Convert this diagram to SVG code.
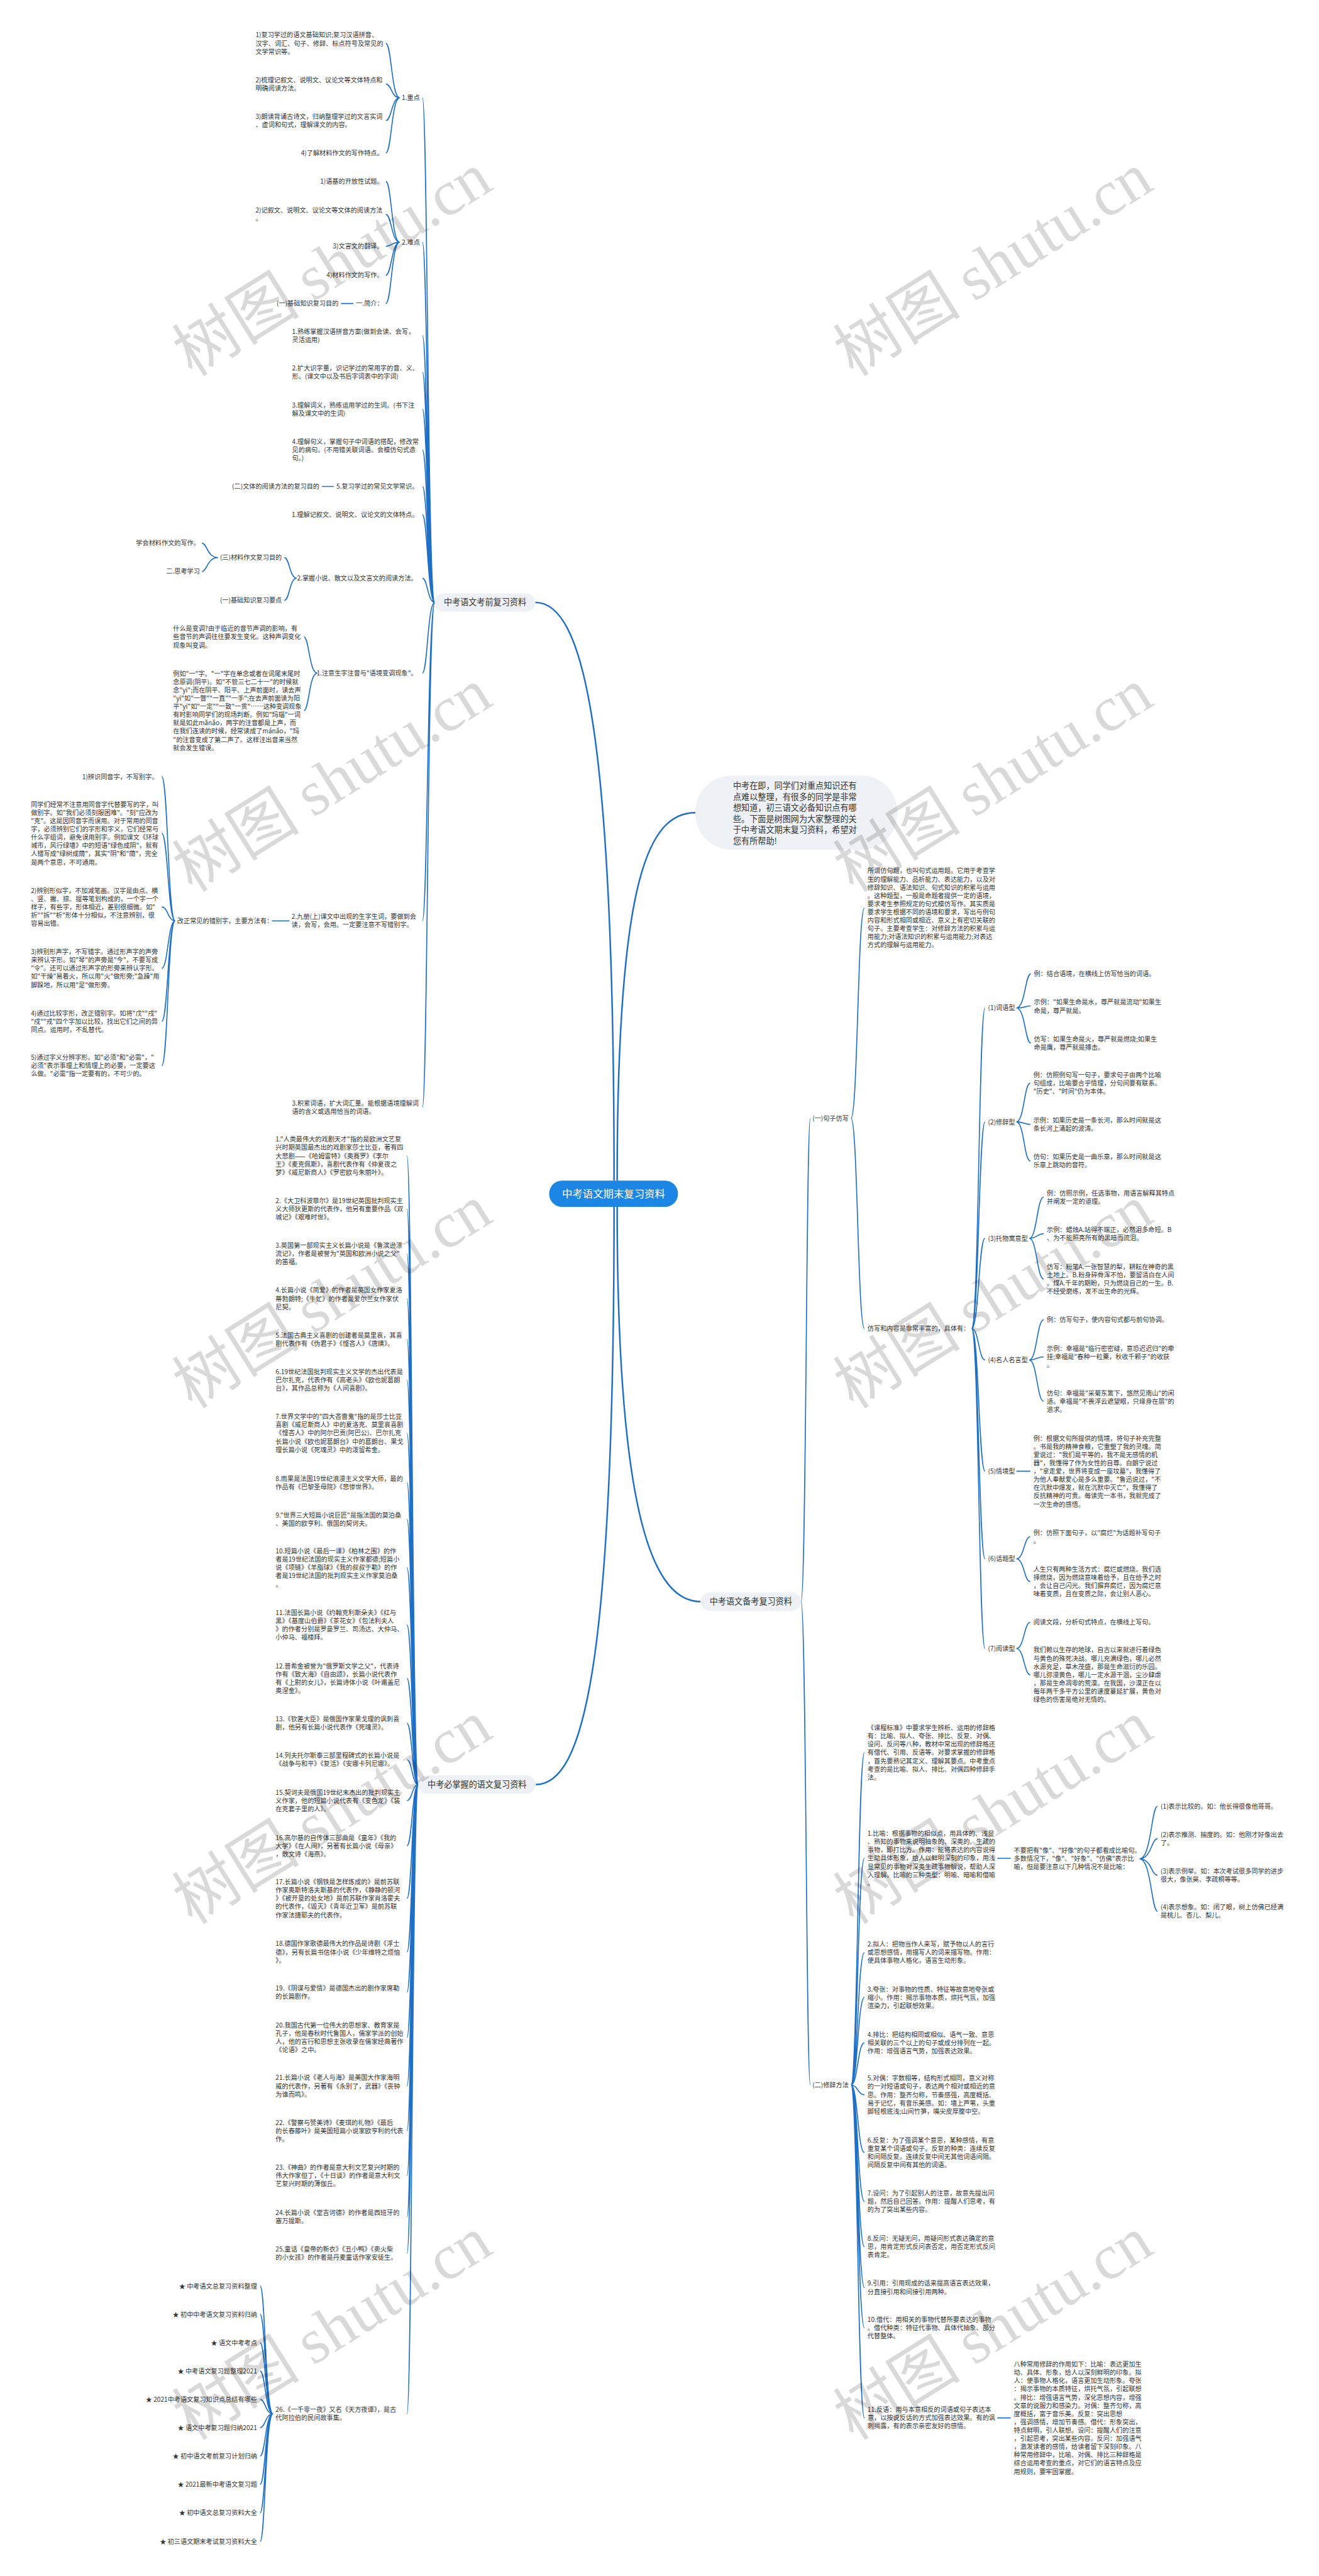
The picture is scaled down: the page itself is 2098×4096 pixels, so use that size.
<svg xmlns="http://www.w3.org/2000/svg" width="2098" height="4096" viewBox="0 0 2098 4096">
<style>
.t{font-family:"Noto Sans CJK SC","Liberation Sans",sans-serif;font-size:12.4px;fill:#333}
.e{text-anchor:end}
.n{font-size:16px;text-anchor:middle}
.r{font-size:20px;fill:#fff;text-anchor:middle}
.b{font-size:16px}
.c{fill:none;stroke:#1f6fc5;stroke-width:2}
.cr{stroke-width:3}
.nb{fill:#eef1f5}
.wm{font-family:"Noto Sans CJK SC",sans-serif;font-size:124px;fill:#000;fill-opacity:.15;text-anchor:middle}
</style>
<rect width="2098" height="4096" fill="#fff"/>
<g transform="scale(0.8194)">
<g id="connectors">
<path class="c cr" d="M1192 2291C1192 1400 1130 1169 1039 1169M1198 2291C1198 1700 1260 1577 1350 1577M1192 2342C1192 3250 1130 3463 1040 3463M1198 2342C1198 2950 1270 3108 1360 3108"/>
<path class="c" d="M844 1169C830 1169 830 190 820 190M844 1169C830 1169 830 470 820 470M844 1169C830 1169 830 651 820 651M844 1169C830 1169 830 722 820 722M844 1169C830 1169 830 794 820 794M844 1169C830 1169 830 873 820 873M844 1169C830 1169 830 944 820 944M844 1169C830 1169 830 999 820 999M844 1169C830 1169 830 1122 820 1122M844 1169C830 1169 830 1306 820 1306M844 1169C830 1169 830 1787 820 1787M844 1169C830 1169 830 2149 820 2149"/>
<path class="c" d="M776 190C760 190 760 84 749 84M776 190C760 190 760 163 749 163M776 190C760 190 760 234 749 234M776 190C760 190 760 297 749 297"/>
<path class="c" d="M776 470C760 470 760 352 749 352M776 470C760 470 760 416 749 416M776 470C760 470 760 478 749 478M776 470C760 470 760 534 749 534M776 470C760 470 760 589 749 589M686 589H662M648 944H625M562 1787H528"/>
<path class="c" d="M576 1122C562 1122 562 1082 552 1082M576 1122C562 1122 562 1165 552 1165M423 1082C402 1082 402 1054 392 1054M423 1082C402 1082 402 1109 392 1109M616 1306C600 1306 600 1236 590 1236M616 1306C600 1306 600 1379 590 1379"/>
<path class="c" d="M340 1787C326 1787 326 1507 314 1507M340 1787C326 1787 326 1617 314 1617M340 1787C326 1787 326 1760 314 1760M340 1787C326 1787 326 1879 314 1879M340 1787C326 1787 326 1982 314 1982M340 1787C326 1787 326 2068 314 2068"/>
<path class="c" d="M812 3463C800 3463 800 2243 790 2243M812 3463C800 3463 800 2346 790 2346M812 3463C800 3463 800 2433 790 2433M812 3463C800 3463 800 2520 790 2520M812 3463C800 3463 800 2599 790 2599M812 3463C800 3463 800 2678 790 2678M812 3463C800 3463 800 2781 790 2781M812 3463C800 3463 800 2877 790 2877M812 3463C800 3463 800 2948 790 2948M812 3463C800 3463 800 3042 790 3042M812 3463C800 3463 800 3153 790 3153M812 3463C800 3463 800 3257 790 3257M812 3463C800 3463 800 3344 790 3344M812 3463C800 3463 800 3415 790 3415M812 3463C800 3463 800 3494 790 3494M812 3463C800 3463 800 3582 790 3582M812 3463C800 3463 800 3684 790 3684M812 3463C800 3463 800 3788 790 3788M812 3463C800 3463 800 3866 790 3866M812 3463C800 3463 800 3954 790 3954M812 3463C800 3463 800 4048 790 4048M812 3463C800 3463 800 4135 790 4135M812 3463C800 3463 800 4222 790 4222M812 3463C800 3463 800 4302 790 4302M812 3463C800 3463 800 4373 790 4373M812 3463C800 3463 800 4684 790 4684"/>
<path class="c" d="M530 4684C515 4684 515 4436 505 4436M530 4684C515 4684 515 4491 505 4491M530 4684C515 4684 515 4546 505 4546M530 4684C515 4684 515 4601 505 4601M530 4684C515 4684 515 4656 505 4656M530 4684C515 4684 515 4711 505 4711M530 4684C515 4684 515 4766 505 4766M530 4684C515 4684 515 4821 505 4821M530 4684C515 4684 515 4876 505 4876M530 4684C515 4684 515 4932 505 4932"/>
<path class="c" d="M1555 3108C1565 3108 1565 2170 1573 2170M1555 3108C1565 3108 1565 4046 1573 4046M1652 2170C1665 2170 1665 1762 1678 1762M1652 2170C1665 2170 1665 2578 1678 2578"/>
<path class="c" d="M1886 2578C1900 2578 1900 1956 1912 1956M1886 2578C1900 2578 1900 2177 1912 2177M1886 2578C1900 2578 1900 2403 1912 2403M1886 2578C1900 2578 1900 2639 1912 2639M1886 2578C1900 2578 1900 2855 1912 2855M1886 2578C1900 2578 1900 3025 1912 3025M1886 2578C1900 2578 1900 3199 1912 3199"/>
<path class="c" d="M1973 1956C1990 1956 1990 1890 2001 1890M1973 1956C1990 1956 1990 1952 2001 1952M1973 1956C1990 1956 1990 2024 2001 2024M1973 2177C1988 2177 1988 2102 2000 2102M1973 2177C1988 2177 1988 2182 2000 2182M1973 2177C1988 2177 1988 2253 2000 2253M1998 2403C2013 2403 2013 2323 2026 2323M1998 2403C2013 2403 2013 2394 2026 2394M1998 2403C2013 2403 2013 2482 2026 2482M1998 2639C2013 2639 2013 2561 2026 2561M1998 2639C2013 2639 2013 2633 2026 2633M1998 2639C2013 2639 2013 2719 2026 2719M1973 2855H2000M1973 3025C1988 3025 1988 2982 2000 2982M1973 3025C1988 3025 1988 3069 2000 3069M1973 3199C1988 3199 1988 3148 2000 3148M1973 3199C1988 3199 1988 3250 2000 3250"/>
<path class="c" d="M1652 4046C1665 4046 1665 3401 1678 3401M1652 4046C1665 4046 1665 3606 1678 3606M1652 4046C1665 4046 1665 3789 1678 3789M1652 4046C1665 4046 1665 3876 1678 3876M1652 4046C1665 4046 1665 3964 1678 3964M1652 4046C1665 4046 1665 4065 1678 4065M1652 4046C1665 4046 1665 4177 1678 4177M1652 4046C1665 4046 1665 4272 1678 4272M1652 4046C1665 4046 1665 4360 1678 4360M1652 4046C1665 4046 1665 4439 1678 4439M1652 4046C1665 4046 1665 4517 1678 4517M1652 4046C1665 4046 1665 4692 1678 4692M1936 3606H1962M1936 4692H1962"/>
<path class="c" d="M2212 3607C2235 3607 2235 3505 2247 3505M2212 3607C2235 3607 2235 3568 2247 3568M2212 3607C2235 3607 2235 3639 2247 3639M2212 3607C2235 3607 2235 3709 2247 3709"/>
</g>
<g id="root"><rect x="1066" y="2291" width="250" height="51" rx="25" fill="#1c86e4"/><text class="t r" x="1191" y="2323.5">中考语文期末复习资料</text></g>
<g id="intro"><rect x="1350" y="1505" width="392" height="144" rx="70" class="nb"/>
<text class="t b" x="1423" y="1530.5"><tspan>中考在即，同学们对重点知识还有</tspan><tspan x="1423" dy="21.4">点难以整理，有很多的同学是非常</tspan><tspan x="1423" dy="21.4">想知道，初三语文必备知识点有哪</tspan><tspan x="1423" dy="21.4">些。下面是树图网为大家整理的关</tspan><tspan x="1423" dy="21.4">于中考语文期末复习资料，希望对</tspan><tspan x="1423" dy="21.4">您有所帮助!</tspan></text></g>
<g id="branch-kaoqian"><rect x="844" y="1151" width="195" height="36" rx="18" class="nb"/><text class="t n" x="941.5" y="1174.5">中考语文考前复习资料</text></g>
<g id="branch-bizhangwo"><rect x="812" y="3445" width="228" height="36" rx="18" class="nb"/><text class="t n" x="926" y="3468.5">中考必掌握的语文复习资料</text></g>
<g id="branch-beikao"><rect x="1360" y="3090" width="195" height="36" rx="18" class="nb"/><text class="t n" x="1457.5" y="3113.5">中考语文备考复习资料</text></g>
<g id="kaoqian-children">
<text class="t" x="496" y="72.5"><tspan>1)复习学过的语文基础知识;复习汉语拼音、</tspan><tspan x="496" dy="16">汉字、词汇、句子、修辞、标点符号及常见的</tspan><tspan x="496" dy="16">文学常识等。</tspan></text>
<text class="t" x="496" y="159.5"><tspan>2)梳理记叙文、说明文、议论文等文体特点和</tspan><tspan x="496" dy="16">明确阅读方法。</tspan></text>
<text class="t" x="496" y="230.5"><tspan>3)朗读背诵古诗文，归纳整理学过的文言实词</tspan><tspan x="496" dy="16">、虚词和句式，理解课文的内容。</tspan></text>
<text class="t e" x="744" y="301.5">4)了解材料作文的写作特点。</text>
<text class="t" x="780" y="194.5">1.重点</text>
<text class="t e" x="744" y="356.5">1)语基的开放性试题。</text>
<text class="t" x="496" y="412.5"><tspan>2)记叙文、说明文、议论文等文体的阅读方法</tspan><tspan x="496" dy="16">。</tspan></text>
<text class="t e" x="744" y="482.5">3)文言文的翻译。</text>
<text class="t e" x="744" y="538.5">4)材料作文的写作。</text>
<text class="t e" x="744" y="593.5">一.简介：</text>
<text class="t e" x="657" y="593.5">(一)基础知识复习目的</text>
<text class="t" x="780" y="474.5">2.难点</text>
<text class="t" x="567" y="647.5"><tspan>1.熟练掌握汉语拼音方案(做到会读、会写，</tspan><tspan x="567" dy="16">灵活运用)</tspan></text>
<text class="t" x="567" y="718.5"><tspan>2.扩大识字量，识记学过的常用字的音、义、</tspan><tspan x="567" dy="16">形。(课文中以及书后字词表中的字词)</tspan></text>
<text class="t" x="567" y="790.5"><tspan>3.理解词义，熟练运用学过的生词。(书下注</tspan><tspan x="567" dy="16">解及课文中的生词)</tspan></text>
<text class="t" x="567" y="861.5"><tspan>4.理解句义，掌握句子中词语的搭配，修改常</tspan><tspan x="567" dy="16">见的病句。(不用错关联词语。会模仿句式造</tspan><tspan x="567" dy="16">句。)</tspan></text>
<text class="t e" x="812" y="948.5">5.复习学过的常见文学常识。</text>
<text class="t e" x="620" y="948.5">(二)文体的阅读方法的复习目的</text>
<text class="t e" x="812" y="1003.5">1.理解记叙文、说明文、议论文的文体特点。</text>
<text class="t e" x="388" y="1058.5">学会材料作文的写作。</text>
<text class="t e" x="388" y="1113.5">二.思考学习</text>
<text class="t e" x="547" y="1086.5">(三)材料作文复习目的</text>
<text class="t e" x="547" y="1169.5">(一)基础知识复习要点</text>
<text class="t e" x="810" y="1126.5">2.掌握小说、散文以及文言文的阅读方法。</text>
<text class="t" x="336" y="1224.5"><tspan>什么是变调?由于临近的音节声调的影响，有</tspan><tspan x="336" dy="16">些音节的声调往往要发生变化。这种声调变化</tspan><tspan x="336" dy="16">现象叫变调。</tspan></text>
<text class="t" x="336" y="1311.5"><tspan>例如"一"字。"一"字在单念或者在词尾末尾时</tspan><tspan x="336" dy="16">念原调(阴平)。如"不管三七二十一"的时候就</tspan><tspan x="336" dy="16">念"yi";而在阴平、阳平、上声前面时，读去声</tspan><tspan x="336" dy="16">"yi"如"一瞥""一直""一手";在去声前面读为阳</tspan><tspan x="336" dy="16">平"yi"如"一定""一致"一贯"……这种变调现象</tspan><tspan x="336" dy="16">有时影响同学们的现场判断。例如"玛瑙"一词</tspan><tspan x="336" dy="16">就是如此mǎnǎo，两字的注音都是上声，而</tspan><tspan x="336" dy="16">在我们连读的时候，经常读成了mánǎo，"玛</tspan><tspan x="336" dy="16">"的注音变成了第二声了。这样注出音来当然</tspan><tspan x="336" dy="16">就会发生错误。</tspan></text>
<text class="t e" x="810" y="1310.5">1.注意生字注音与"语境变调现象"。</text>
<text class="t" x="566" y="1783.5"><tspan>2.九册(上)课文中出现的生字生词，要做到会</tspan><tspan x="566" dy="16">读，会写，会用。一定要注意不写错别字。</tspan></text>
<text class="t" x="344" y="1791.5">改正常见的错别字，主要方法有：</text>
<text class="t e" x="307" y="1511.5">1)辨识同音字，不写别字。</text>
<text class="t" x="60" y="1565.5"><tspan>同学们经常不注意用同音字代替要写的字，叫</tspan><tspan x="60" dy="16">做别字。如"我们必须刻服困难"。"刻"应改为</tspan><tspan x="60" dy="16">"克"。这是因同音字而误用。对于常用的同音</tspan><tspan x="60" dy="16">字，必须辨别它们的字形和字义，它们经常与</tspan><tspan x="60" dy="16">什么字组词，避免误用别字。例如课文《环球</tspan><tspan x="60" dy="16">城市，风行绿墙》中的短语"绿色成阴"，就有</tspan><tspan x="60" dy="16">人错写成"绿树成荫"，其实"阴"和"荫"，完全</tspan><tspan x="60" dy="16">是两个意思，不可通用。</tspan></text>
<text class="t" x="60" y="1732.5"><tspan>2)辨别形似字，不加减笔画。汉字是由点、横</tspan><tspan x="60" dy="16">、竖、撇、捺、提等笔划构成的，一个字一个</tspan><tspan x="60" dy="16">样子，有些字，形体相近，差别很细微。如"</tspan><tspan x="60" dy="16">折""拆""析"形体十分相似，不注意辨别，很</tspan><tspan x="60" dy="16">容易出错。</tspan></text>
<text class="t" x="60" y="1851.5"><tspan>3)辨别形声字，不写错字。通过形声字的声旁</tspan><tspan x="60" dy="16">来辨认字形。如"琴"的声旁是"今"，不要写成</tspan><tspan x="60" dy="16">"令"。还可以通过形声字的形旁来辨认字形。</tspan><tspan x="60" dy="16">如"干燥"易着火，所以用"火"做形旁;"急躁"用</tspan><tspan x="60" dy="16">脚跺地，所以用"足"做形旁。</tspan></text>
<text class="t" x="60" y="1970.5"><tspan>4)通过比较字形，改正错别字。如将"戊""戌"</tspan><tspan x="60" dy="16">"戍""戎"四个字加以比较，找出它们之间的异</tspan><tspan x="60" dy="16">同点。运用时，不乱替代。</tspan></text>
<text class="t" x="60" y="2056.5"><tspan>5)通过字义分辨字形。如"必须"和"必需"，"</tspan><tspan x="60" dy="16">必须"表示事理上和情理上的必要，一定要这</tspan><tspan x="60" dy="16">么做。"必需"指一定要有的，不可少的。</tspan></text>
<text class="t" x="567" y="2145.5"><tspan>3.积累词语，扩大词汇量。能根据语境理解词</tspan><tspan x="567" dy="16">语的含义或选用恰当的词语。</tspan></text>
</g>
<g id="bizhangwo-children">
<text class="t" x="535" y="2215.5"><tspan>1."人类最伟大的戏剧天才"指的是欧洲文艺复</tspan><tspan x="535" dy="16">兴时期英国最杰出的戏剧家莎士比亚，著有四</tspan><tspan x="535" dy="16">大悲剧——《哈姆雷特》《奥赛罗》《李尔</tspan><tspan x="535" dy="16">王》《麦克佩斯》，喜剧代表作有《仲夏夜之</tspan><tspan x="535" dy="16">梦》《威尼斯商人》《罗密欧与朱丽叶》。</tspan></text>
<text class="t" x="535" y="2334.5"><tspan>2.《大卫科波菲尔》是19世纪英国批判现实主</tspan><tspan x="535" dy="16">义大师狄更斯的代表作，他另有重要作品《双</tspan><tspan x="535" dy="16">城记》《艰难时世》。</tspan></text>
<text class="t" x="535" y="2421.5"><tspan>3.英国第一部现实主义长篇小说是《鲁滨逊漂</tspan><tspan x="535" dy="16">流记》，作者是被誉为"英国和欧洲小说之父"</tspan><tspan x="535" dy="16">的笛福。</tspan></text>
<text class="t" x="535" y="2508.5"><tspan>4.长篇小说《简爱》的作者是英国女作家夏洛</tspan><tspan x="535" dy="16">蒂勃朗特;《牛虻》的作者是爱尔兰女作家伏</tspan><tspan x="535" dy="16">尼契。</tspan></text>
<text class="t" x="535" y="2595.5"><tspan>5.法国古典主义喜剧的创建者是莫里哀，其喜</tspan><tspan x="535" dy="16">剧代表作有《伪君子》《悭吝人》《唐璜》。</tspan></text>
<text class="t" x="535" y="2666.5"><tspan>6.19世纪法国批判现实主义文学的杰出代表是</tspan><tspan x="535" dy="16">巴尔扎克，代表作有《高老头》《欧也妮葛朗</tspan><tspan x="535" dy="16">台》，其作品总称为《人间喜剧》。</tspan></text>
<text class="t" x="535" y="2753.5"><tspan>7.世界文学中的"四大吝啬鬼"指的是莎士比亚</tspan><tspan x="535" dy="16">喜剧《威尼斯商人》中的夏洛克、莫里哀喜剧</tspan><tspan x="535" dy="16">《悭吝人》中的阿尔巴贡(阿巴公)、巴尔扎克</tspan><tspan x="535" dy="16">长篇小说《欧也妮葛朗台》中的葛朗台、果戈</tspan><tspan x="535" dy="16">理长篇小说《死魂灵》中的泼留希金。</tspan></text>
<text class="t" x="535" y="2873.5"><tspan>8.雨果是法国19世纪浪漫主义文学大师，最的</tspan><tspan x="535" dy="16">作品有《巴黎圣母院》《悲惨世界》。</tspan></text>
<text class="t" x="535" y="2944.5"><tspan>9."世界三大短篇小说巨匠"是指法国的莫泊桑</tspan><tspan x="535" dy="16">、美国的欧亨利、俄国的契诃夫。</tspan></text>
<text class="t" x="535" y="3014.5"><tspan>10.短篇小说《最后一课》《柏林之围》的作</tspan><tspan x="535" dy="16">者是19世纪法国的现实主义作家都德;短篇小</tspan><tspan x="535" dy="16">说《项链》《羊脂球》《我的叔叔于勒》的作</tspan><tspan x="535" dy="16">者是19世纪法国的批判现实主义作家莫泊桑</tspan><tspan x="535" dy="16">。</tspan></text>
<text class="t" x="535" y="3133.5"><tspan>11.法国长篇小说《约翰克利斯朵夫》《红与</tspan><tspan x="535" dy="16">黑》《基度山伯爵》《茶花女》《包法利夫人</tspan><tspan x="535" dy="16">》的作者分别是罗曼罗兰、司汤达、大仲马、</tspan><tspan x="535" dy="16">小仲马、福楼拜。</tspan></text>
<text class="t" x="535" y="3237.5"><tspan>12.普希金被誉为"俄罗斯文学之父"，代表诗</tspan><tspan x="535" dy="16">作有《致大海》《自由颂》，长篇小说代表作</tspan><tspan x="535" dy="16">有《上尉的女儿》，长篇诗体小说《叶甫盖尼</tspan><tspan x="535" dy="16">奥涅金》。</tspan></text>
<text class="t" x="535" y="3340.5"><tspan>13.《钦差大臣》是俄国作家果戈理的讽刺喜</tspan><tspan x="535" dy="16">剧，他另有长篇小说代表作《死魂灵》。</tspan></text>
<text class="t" x="535" y="3411.5"><tspan>14.列夫托尔斯泰三部里程碑式的长篇小说是</tspan><tspan x="535" dy="16">《战争与和平》《复活》《安娜卡列尼娜》。</tspan></text>
<text class="t" x="535" y="3482.5"><tspan>15.契诃夫是俄国19世纪末杰出的批判现实主</tspan><tspan x="535" dy="16">义作家，他的短篇小说代表有《变色龙》《装</tspan><tspan x="535" dy="16">在克套子里的人》。</tspan></text>
<text class="t" x="535" y="3570.5"><tspan>16.高尔基的自传体三部曲是《童年》《我的</tspan><tspan x="535" dy="16">大学》《在人间》，另著有长篇小说《母亲》</tspan><tspan x="535" dy="16">，散文诗《海燕》。</tspan></text>
<text class="t" x="535" y="3656.5"><tspan>17.长篇小说《钢铁是怎样炼成的》是前苏联</tspan><tspan x="535" dy="16">作家奥斯特洛夫斯基的代表作，《静静的顿河</tspan><tspan x="535" dy="16">》《被开垦的处女地》是前苏联作家肖洛霍夫</tspan><tspan x="535" dy="16">的代表作，《毁灭》《青年近卫军》是前苏联</tspan><tspan x="535" dy="16">作家法捷耶夫的代表作。</tspan></text>
<text class="t" x="535" y="3776.5"><tspan>18.德国作家歌德最伟大的作品是诗剧《浮士</tspan><tspan x="535" dy="16">德》，另有长篇书信体小说《少年维特之烦恼</tspan><tspan x="535" dy="16">》。</tspan></text>
<text class="t" x="535" y="3862.5"><tspan>19.《阴谋与爱情》是德国杰出的剧作家席勒</tspan><tspan x="535" dy="16">的长篇剧作。</tspan></text>
<text class="t" x="535" y="3934.5"><tspan>20.我国古代第一位伟大的思想家、教育家是</tspan><tspan x="535" dy="16">孔子，他是春秋时代鲁国人，儒家学派的创始</tspan><tspan x="535" dy="16">人，他的言行和思想主张收录在儒家经典著作</tspan><tspan x="535" dy="16">《论语》之中。</tspan></text>
<text class="t" x="535" y="4036.5"><tspan>21.长篇小说《老人与海》是美国大作家海明</tspan><tspan x="535" dy="16">威的代表作，另著有《永别了，武器》《丧钟</tspan><tspan x="535" dy="16">为谁而鸣》。</tspan></text>
<text class="t" x="535" y="4123.5"><tspan>22.《警察与赞美诗》《麦琪的礼物》《最后</tspan><tspan x="535" dy="16">的长春藤叶》是美国短篇小说家欧亨利的代表</tspan><tspan x="535" dy="16">作。</tspan></text>
<text class="t" x="535" y="4210.5"><tspan>23.《神曲》的作者是意大利文艺复兴时期的</tspan><tspan x="535" dy="16">伟大作家但丁，《十日谈》的作者是意大利文</tspan><tspan x="535" dy="16">艺复兴时期的薄伽丘。</tspan></text>
<text class="t" x="535" y="4298.5"><tspan>24.长篇小说《堂吉诃德》的作者是西班牙的</tspan><tspan x="535" dy="16">塞万提斯。</tspan></text>
<text class="t" x="535" y="4369.5"><tspan>25.童话《皇帝的新衣》《丑小鸭》《卖火柴</tspan><tspan x="535" dy="16">的小女孩》的作者是丹麦童话作家安徒生。</tspan></text>
<text class="t" x="535" y="4680.5"><tspan>26.《一千零一夜》又名《天方夜谭》，是古</tspan><tspan x="535" dy="16">代阿拉伯的民间故事集。</tspan></text>
<text class="t e" x="499" y="4440.5">★ 中考语文总复习资料整理</text>
<text class="t e" x="499" y="4495.5">★ 初中中考语文复习资料归纳</text>
<text class="t e" x="499" y="4550.5">★ 语文中考考点</text>
<text class="t e" x="499" y="4605.5">★ 中考语文复习题整理2021</text>
<text class="t e" x="499" y="4660.5">★ 2021中考语文复习知识点总结有哪些</text>
<text class="t e" x="499" y="4715.5">★ 语文中考复习题归纳2021</text>
<text class="t e" x="499" y="4770.5">★ 初中语文考前复习计划归纳</text>
<text class="t e" x="499" y="4825.5">★ 2021最新中考语文复习题</text>
<text class="t e" x="499" y="4880.5">★ 初中语文总复习资料大全</text>
<text class="t e" x="499" y="4936.5">★ 初三语文期末考试复习资料大全</text>
</g>
<g id="beikao-children">
<text class="t" x="1577" y="2174.5">(一)句子仿写</text>
<text class="t" x="1684" y="1694.5"><tspan>所谓仿句题，也叫句式运用题。它用于考查学</tspan><tspan x="1684" dy="16">生的理解能力、品析能力、表达能力，以及对</tspan><tspan x="1684" dy="16">修辞知识、语法知识、句式知识的积累与运用</tspan><tspan x="1684" dy="16">。这种题型，一般是命题者提供一定的语境，</tspan><tspan x="1684" dy="16">要求考生参照规定的句式模仿写作。其实质是</tspan><tspan x="1684" dy="16">要求学生根据不同的语境和要求，写出与例句</tspan><tspan x="1684" dy="16">内容和形式相同或相近、意义上有密切关联的</tspan><tspan x="1684" dy="16">句子。主要考查学生：对修辞方法的积累与运</tspan><tspan x="1684" dy="16">用能力;对语法知识的积累与运用能力;对表达</tspan><tspan x="1684" dy="16">方式的理解与运用能力。</tspan></text>
<text class="t" x="1684" y="2582.5">仿写和内容是非常丰富的，具体有：</text>
<text class="t" x="1918" y="1960.5">(1)词语型</text>
<text class="t" x="2007" y="1894.5">例：结合语境，在横线上仿写恰当的词语。</text>
<text class="t" x="2007" y="1949.5"><tspan>示例："如果生命是水，尊严就是流动"如果生</tspan><tspan x="2007" dy="16">命是，尊严就是。</tspan></text>
<text class="t" x="2007" y="2020.5"><tspan>仿写：如果生命是火，尊严就是燃烧;如果生</tspan><tspan x="2007" dy="16">命是鹰，尊严就是搏击。</tspan></text>
<text class="t" x="1918" y="2181.5">(2)修辞型</text>
<text class="t" x="2006" y="2090.5"><tspan>例：仿照例句写一句子，要求句子由两个比喻</tspan><tspan x="2006" dy="16">句组成，比喻要合乎情理，分句间要有联系。</tspan><tspan x="2006" dy="16">"历史"、"时间"仍为本体。</tspan></text>
<text class="t" x="2006" y="2178.5"><tspan>示例：如果历史是一条长河，那么时间就是这</tspan><tspan x="2006" dy="16">条长河上涌起的波涛。</tspan></text>
<text class="t" x="2006" y="2249.5"><tspan>仿句：如果历史是一曲乐章，那么时间就是这</tspan><tspan x="2006" dy="16">乐章上跳动的音符。</tspan></text>
<text class="t" x="1918" y="2407.5">(3)托物寓意型</text>
<text class="t" x="2032" y="2319.5"><tspan>例：仿照示例，任选事物，用语言解释其特点</tspan><tspan x="2032" dy="16">并阐发一定的道理。</tspan></text>
<text class="t" x="2032" y="2390.5"><tspan>示例：蜡烛A.站得不端正，必然泪多命短。B</tspan><tspan x="2032" dy="16">、为不能照亮所有的黑暗而流泪。</tspan></text>
<text class="t" x="2032" y="2462.5"><tspan>仿写：粉笔A.一张智慧的犁，耕耘在神奇的黑</tspan><tspan x="2032" dy="16">土地上。B.粉身碎骨浑不怕，要留清白在人间</tspan><tspan x="2032" dy="16">。煤A.千年的期盼，只为燃烧自己的一生。B.</tspan><tspan x="2032" dy="16">不经受磨练，发不出生命的光辉。</tspan></text>
<text class="t" x="1918" y="2643.5">(4)名人名言型</text>
<text class="t" x="2032" y="2565.5">例：仿写句子，使内容句式都与前句协调。</text>
<text class="t" x="2032" y="2621.5"><tspan>示例：幸福是"临行密密缝，意恐迟迟归"的牵</tspan><tspan x="2032" dy="16">挂;幸福是"春种一粒粟，秋收千颗子"的收获</tspan><tspan x="2032" dy="16">。</tspan></text>
<text class="t" x="2032" y="2707.5"><tspan>仿句：幸福是"采菊东篱下，悠然见南山"的闲</tspan><tspan x="2032" dy="16">适。幸福是"不畏浮云遮望眼，只缘身在层"的</tspan><tspan x="2032" dy="16">追求。</tspan></text>
<text class="t" x="1918" y="2859.5">(5)情境型</text>
<text class="t" x="2006" y="2795.5"><tspan>例：根据文句所提供的情境，将句子补充完整</tspan><tspan x="2006" dy="16">。书是我的精神食粮，它重塑了我的灵魂。简</tspan><tspan x="2006" dy="16">爱说过："我们是平等的，我不是无感情的机</tspan><tspan x="2006" dy="16">器"，我懂得了作为女性的自尊。白朗宁说过</tspan><tspan x="2006" dy="16">，"拿走爱，世界将变成一座坟墓"，我懂得了</tspan><tspan x="2006" dy="16">为他人奉献爱心是多么重要。"鲁迅说过，"不</tspan><tspan x="2006" dy="16">在沉默中爆发，就在沉默中灭亡"，我懂得了</tspan><tspan x="2006" dy="16">反抗精神的可贵。每读完一本书，我就完成了</tspan><tspan x="2006" dy="16">一次生命的感悟。</tspan></text>
<text class="t" x="1918" y="3029.5">(6)话题型</text>
<text class="t" x="2006" y="2978.5"><tspan>例：仿照下面句子，以"腐烂"为话题补写句子</tspan><tspan x="2006" dy="16">。</tspan></text>
<text class="t" x="2006" y="3049.5"><tspan>人生只有两种生活方式：腐烂或燃烧。我们选</tspan><tspan x="2006" dy="16">择燃烧，因为燃烧意味着给予，且在给予之时</tspan><tspan x="2006" dy="16">，会让自己闪光。我们摒弃腐烂，因为腐烂意</tspan><tspan x="2006" dy="16">味着变质，且在变质之际，会让别人恶心。</tspan></text>
<text class="t" x="1918" y="3203.5">(7)阅读型</text>
<text class="t" x="2006" y="3152.5">阅读文段，分析句式特点，在横线上写句。</text>
<text class="t" x="2006" y="3206.5"><tspan>我们赖以生存的地球，自古以来就进行着绿色</tspan><tspan x="2006" dy="16">与黄色的殊死决战。哪儿充满绿色，哪儿必然</tspan><tspan x="2006" dy="16">水源充足，草木茂盛，那是生命滋衍的乐园。</tspan><tspan x="2006" dy="16">哪儿弥漫黄色，哪儿一定水源干涸，尘沙肆虐</tspan><tspan x="2006" dy="16">，那是生命凋零的荒漠。在我国，沙漠正在以</tspan><tspan x="2006" dy="16">每年两千多平方公里的速度蔓延扩展，黄色对</tspan><tspan x="2006" dy="16">绿色的伤害是绝对无情的。</tspan></text>
<text class="t" x="1577" y="4050.5">(二)修辞方法</text>
<text class="t" x="1684" y="3357.5"><tspan>《课程标准》中要求学生辨析、运用的修辞格</tspan><tspan x="1684" dy="16">有：比喻、拟人、夸张、排比、反复、对偶、</tspan><tspan x="1684" dy="16">设问、反问等八种，教材中常出现的修辞格还</tspan><tspan x="1684" dy="16">有借代、引用、反语等。对要求掌握的修辞格</tspan><tspan x="1684" dy="16">，首先要熟记其定义、理解其要点。中考重点</tspan><tspan x="1684" dy="16">考查的是比喻、拟人、排比、对偶四种修辞手</tspan><tspan x="1684" dy="16">法。</tspan></text>
<text class="t" x="1684" y="3562.5"><tspan>1.比喻：根据事物的相似点，用具体的、浅显</tspan><tspan x="1684" dy="16">、熟知的事物来说明抽象的、深奥的、生疏的</tspan><tspan x="1684" dy="16">事物，即打比方。作用：能将表达的内容说得</tspan><tspan x="1684" dy="16">生动具体形象，给人以鲜明深刻的印象，用浅</tspan><tspan x="1684" dy="16">显常见的事物对深奥生疏事物解说，帮助人深</tspan><tspan x="1684" dy="16">入理解。比喻的三种类型：明喻、暗喻和借喻</tspan><tspan x="1684" dy="16">。</tspan></text>
<text class="t" x="1968" y="3595.5"><tspan>不要把有"像"、"好像"的句子都看成比喻句。</tspan><tspan x="1968" dy="16">多数情况下，"像"、"好象"、"仿佛"表示比</tspan><tspan x="1968" dy="16">喻，但是要注意以下几种情况不是比喻：</tspan></text>
<text class="t" x="2253" y="3509.5">(1)表示比较的。如：他长得很像他哥哥。</text>
<text class="t" x="2253" y="3564.5"><tspan>(2)表示推测、揣度的。如：他刚才好像出去</tspan><tspan x="2253" dy="16">了。</tspan></text>
<text class="t" x="2253" y="3635.5"><tspan>(3)表示例举。如：本次考试很多同学的进步</tspan><tspan x="2253" dy="16">很大，像张昊、李疏桐等等。</tspan></text>
<text class="t" x="2253" y="3705.5"><tspan>(4)表示想象。如：闭了眼，树上仿佛已经满</tspan><tspan x="2253" dy="16">是桃儿、杏儿、梨儿。</tspan></text>
<text class="t" x="1684" y="3777.5"><tspan>2.拟人：把物当作人来写，赋予物以人的言行</tspan><tspan x="1684" dy="16">或思想感情，用描写人的词来描写物。作用：</tspan><tspan x="1684" dy="16">使具体事物人格化，语言生动形象。</tspan></text>
<text class="t" x="1684" y="3864.5"><tspan>3.夸张：对事物的性质、特征等故意地夸张或</tspan><tspan x="1684" dy="16">缩小。作用：揭示事物本质，烘托气氛，加强</tspan><tspan x="1684" dy="16">渲染力，引起联想效果。</tspan></text>
<text class="t" x="1684" y="3952.5"><tspan>4.排比：把结构相同或相似、语气一致、意思</tspan><tspan x="1684" dy="16">相关联的三个以上的句子或成分排列在一起。</tspan><tspan x="1684" dy="16">作用：增强语言气势，加强表达效果。</tspan></text>
<text class="t" x="1684" y="4037.5"><tspan>5.对偶：字数相等，结构形式相同，意义对称</tspan><tspan x="1684" dy="16">的一对短语或句子，表达两个相对或相近的意</tspan><tspan x="1684" dy="16">思。作用：整齐匀称，节奏感强，高度概括、</tspan><tspan x="1684" dy="16">易于记忆，有音乐美感。如：墙上芦苇，头重</tspan><tspan x="1684" dy="16">脚轻根底浅;山间竹笋，嘴尖皮厚腹中空。</tspan></text>
<text class="t" x="1684" y="4157.5"><tspan>6.反复：为了强调某个意思，某种感情，有意</tspan><tspan x="1684" dy="16">重复某个词语或句子。反复的种类：连续反复</tspan><tspan x="1684" dy="16">和间隔反复。连续反复中间无其他词语间隔。</tspan><tspan x="1684" dy="16">间隔反复中间有其他的词语。</tspan></text>
<text class="t" x="1684" y="4260.5"><tspan>7.设问：为了引起别人的注意，故意先提出问</tspan><tspan x="1684" dy="16">题，然后自己回答。作用：提醒人们思考，有</tspan><tspan x="1684" dy="16">的为了突出某些内容。</tspan></text>
<text class="t" x="1684" y="4348.5"><tspan>8.反问：无疑无问，用疑问形式表达确定的意</tspan><tspan x="1684" dy="16">思，用肯定形式反问表否定，用否定形式反问</tspan><tspan x="1684" dy="16">表肯定。</tspan></text>
<text class="t" x="1684" y="4435.5"><tspan>9.引用：引用现成的话来提高语言表达效果，</tspan><tspan x="1684" dy="16">分直接引用和间接引用两种。</tspan></text>
<text class="t" x="1684" y="4505.5"><tspan>10.借代：用相关的事物代替所要表达的事物</tspan><tspan x="1684" dy="16">。借代种类：特征代事物、具体代抽象、部分</tspan><tspan x="1684" dy="16">代替整体。</tspan></text>
<text class="t" x="1684" y="4680.5"><tspan>11.反语：用与本意相反的词语或句子表达本</tspan><tspan x="1684" dy="16">意，以按说反话的方式加强表达效果。有的讽</tspan><tspan x="1684" dy="16">刺揭露，有的表示亲密友好的感情。</tspan></text>
<text class="t" x="1968" y="4592.5"><tspan>八种常用修辞的作用如下：比喻：表达更加生</tspan><tspan x="1968" dy="16">动、具体、形象，给人以深刻鲜明的印象。拟</tspan><tspan x="1968" dy="16">人：使事物人格化，语言更加生动形象。夸张</tspan><tspan x="1968" dy="16">：揭示事物的本质特征，烘托气氛，引起联想</tspan><tspan x="1968" dy="16">。排比：增强语言气势，深化思想内容，增强</tspan><tspan x="1968" dy="16">文章的说服力和感染力。对偶：整齐匀称，高</tspan><tspan x="1968" dy="16">度概括，富于音乐美。反复：突出思想</tspan><tspan x="1968" dy="16">，强调感情，增加节奏感。借代：形象突出，</tspan><tspan x="1968" dy="16">特点鲜明，引人联想。设问：提醒人们的注意</tspan><tspan x="1968" dy="16">，引起思考，突出某些内容。反问：加强语气</tspan><tspan x="1968" dy="16">，激发读者的感情，给读者留下深刻印象。八</tspan><tspan x="1968" dy="16">种常用修辞中，比喻、对偶、排比三种辞格是</tspan><tspan x="1968" dy="16">综合运用考查的重点，对它们的语言特点及应</tspan><tspan x="1968" dy="16">用规则，要牢固掌握。</tspan></text>
</g>
<g id="watermarks">
<text class="wm" transform="translate(646 515) rotate(-32)" y="40">树图 <tspan font-family="Liberation Serif">shutu.cn</tspan></text>
<text class="wm" transform="translate(646 1516) rotate(-32)" y="40">树图 <tspan font-family="Liberation Serif">shutu.cn</tspan></text>
<text class="wm" transform="translate(646 2518) rotate(-32)" y="40">树图 <tspan font-family="Liberation Serif">shutu.cn</tspan></text>
<text class="wm" transform="translate(646 3519) rotate(-32)" y="40">树图 <tspan font-family="Liberation Serif">shutu.cn</tspan></text>
<text class="wm" transform="translate(646 4520) rotate(-32)" y="40">树图 <tspan font-family="Liberation Serif">shutu.cn</tspan></text>
<text class="wm" transform="translate(1929 515) rotate(-32)" y="40">树图 <tspan font-family="Liberation Serif">shutu.cn</tspan></text>
<text class="wm" transform="translate(1929 1516) rotate(-32)" y="40">树图 <tspan font-family="Liberation Serif">shutu.cn</tspan></text>
<text class="wm" transform="translate(1929 2518) rotate(-32)" y="40">树图 <tspan font-family="Liberation Serif">shutu.cn</tspan></text>
<text class="wm" transform="translate(1929 3519) rotate(-32)" y="40">树图 <tspan font-family="Liberation Serif">shutu.cn</tspan></text>
<text class="wm" transform="translate(1929 4520) rotate(-32)" y="40">树图 <tspan font-family="Liberation Serif">shutu.cn</tspan></text>
</g>
</g>
</svg>
